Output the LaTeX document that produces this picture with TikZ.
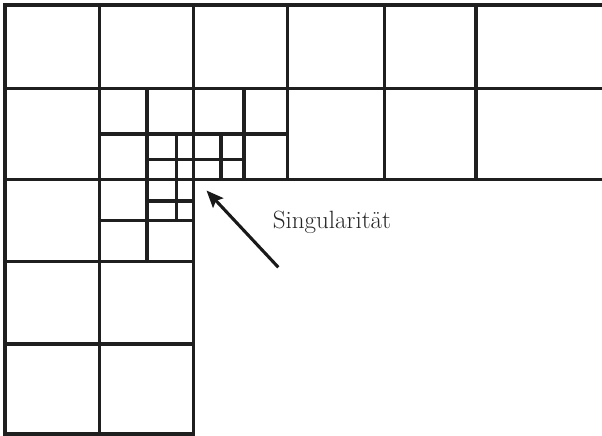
\documentclass[tikz,border=0pt]{standalone}
\usetikzlibrary{arrows.meta}
\begin{document}
\begin{tikzpicture}[x=1pt,y=-1pt,
  gridline/.style={line width=3.2pt, line cap=rect, draw=black!88},
  pointer/.style={line width=3.1pt, draw=black!90, -{Stealth[length=17pt,width=14pt,inset=3pt]}},
  label/.style={anchor=base west, inner sep=0pt, text=black!85, font=\fontsize{25}{30}\selectfont}]
\useasboundingbox (0,0) rectangle (602,436);
\def\xa{5}\def\xb{99.3}\def\xc{193.3}\def\xd{287.3}\def\xe{384.6}\def\xf{476}
\def\ya{5}\def\yb{88.7}\def\yc{179.3}\def\yd{261.5}\def\ye{344}\def\yg{434}
% main grid: horizontals
\draw[gridline] (\xa,\ya) -- (602,\ya);
\draw[gridline] (\xa,\yb) -- (602,\yb);
\draw[gridline] (\xa,\yc) -- (602,\yc);
\draw[gridline] (\xa,\yd) -- (\xc,\yd);
\draw[gridline] (\xa,\ye) -- (\xc,\ye);
\draw[gridline] (\xa,\yg) -- (\xc,\yg);
% main grid: verticals
\draw[gridline] (\xa,\ya) -- (\xa,\yg);
\draw[gridline] (\xb,\ya) -- (\xb,\yg);
\draw[gridline] (\xc,\ya) -- (\xc,\yg);
\draw[gridline] (\xd,\ya) -- (\xd,\yc);
\draw[gridline] (\xe,\ya) -- (\xe,\yc);
\draw[gridline] (\xf,\ya) -- (\xf,\yc);
% refinement level 1
\draw[gridline] (\xb,134) -- (\xd,134);
\draw[gridline] (147,\yb) -- (147,\yd);
\draw[gridline] (244,\yb) -- (244,\yc);
\draw[gridline] (\xb,220.5) -- (\xc,220.5);
% refinement level 2
\draw[gridline] (176.7,134) -- (176.7,220.5);
\draw[gridline] (221,134) -- (221,\yc);
\draw[gridline] (147,159.5) -- (244,159.5);
\draw[gridline] (147,201) -- (\xc,201);
% label and arrow
\node[label] (lbl) at (272.7,228.3) {Singularität};
\coordinate (tail) at (278.3,267.3);
\coordinate (tip) at (206.5,190.5);
\draw[pointer] (tail) -- (tip);
\end{tikzpicture}
\end{document}
